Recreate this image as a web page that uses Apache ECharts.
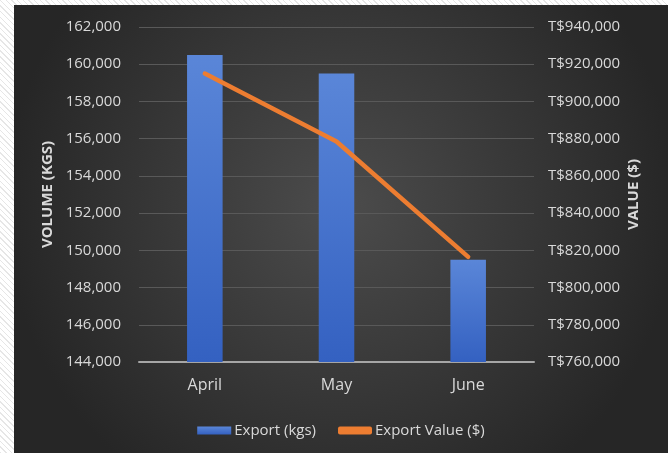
<!DOCTYPE html>
<html>
<head>
<meta charset="utf-8">
<script src="https://cdn.jsdelivr.net/npm/echarts@6/dist/echarts.min.js"></script>
<style>
  html, body { margin: 0; padding: 0; width: 668px; height: 453px; overflow: hidden;
    background-color: #ffffff;
    background-image: repeating-linear-gradient(45deg, #e6e6e6 0 1px, #ffffff 1px 4px); }
  #chart { position: absolute; left: 14px; top: 5px; width: 654px; height: 448px; }
</style>
</head>
<body>
<div id="chart"></div>
<script>
// Monthly export volume (kg) and export value
const months = ['April', 'May', 'June'];
const exportKgs = [160500, 159500, 149500];
const exportValue = [915000, 878500, 816500];

const FONT = '"Open Sans", sans-serif';
const TEXT = '#d9d9d9';

function withCommas(v) {
  return String(v).replace(/\B(?=(\d{3})+(?!\d))/g, ',');
}

const chart = echarts.init(document.getElementById('chart'), null, { renderer: 'canvas' });

chart.setOption({
  backgroundColor: {
    type: 'radial', x: 0.5, y: 0.45, r: 0.75,
    colorStops: [
      { offset: 0, color: '#4c4c4c' },
      { offset: 1, color: '#262626' }
    ]
  },
  animation: false,
  textStyle: { fontFamily: FONT },
  grid: { left: 125, right: 134, top: 22, bottom: 91, containLabel: false },
  legend: {
    bottom: 10,
    left: 'center',
    itemGap: 22,
    itemWidth: 34,
    itemHeight: 8,
    textStyle: { color: TEXT, fontSize: 15, fontFamily: FONT, padding: [0, 0, 0, -2] },
    data: [
      { name: 'Export (kgs)', icon: 'rect' },
      { name: 'Export Value ($)', icon: 'roundRect', itemStyle: { color: '#ed7d31' } }
    ]
  },
  xAxis: {
    type: 'category',
    data: months,
    axisLine: { lineStyle: { color: '#a6a6a6', width: 2 } },
    axisTick: { show: false },
    axisLabel: { color: TEXT, fontSize: 16, margin: 15 }
  },
  yAxis: [
    {
      type: 'value',
      name: 'VOLUME (KGS)',
      nameLocation: 'middle',
      nameGap: 84,
      nameMoveOverlap: false,
      nameRotate: 90,
      nameTextStyle: { color: TEXT, fontSize: 15, fontWeight: 'bold' },
      min: 144000, max: 162000, interval: 2000,
      axisLine: { show: false },
      axisTick: { show: false },
      splitLine: { lineStyle: { color: '#595959', width: 1 } },
      axisLabel: { color: TEXT, fontSize: 15, margin: 18, formatter: withCommas }
    },
    {
      type: 'value',
      name: 'VALUE ($)',
      nameLocation: 'middle',
      nameGap: 92,
      nameMoveOverlap: false,
      nameRotate: 90,
      nameTextStyle: { color: TEXT, fontSize: 15, fontWeight: 'bold' },
      min: 760000, max: 940000, interval: 20000,
      axisLine: { show: false },
      axisTick: { show: false },
      splitLine: { show: false },
      axisLabel: { color: TEXT, fontSize: 15, margin: 14, formatter: v => 'T$' + withCommas(v) }
    }
  ],
  series: [
    {
      name: 'Export (kgs)',
      type: 'bar',
      yAxisIndex: 0,
      data: exportKgs,
      barWidth: '27%',
      itemStyle: {
        color: {
          type: 'linear', x: 0, y: 0, x2: 0, y2: 1,
          colorStops: [
            { offset: 0, color: '#5a86d8' },
            { offset: 1, color: '#3461c1' }
          ]
        }
      }
    },
    {
      name: 'Export Value ($)',
      type: 'line',
      yAxisIndex: 1,
      data: exportValue,
      symbol: 'none',
      lineStyle: { color: '#ed7d31', width: 4.5, cap: 'round', join: 'round' },
      itemStyle: { color: '#ed7d31' }
    }
  ]
});
</script>
</body>
</html>
